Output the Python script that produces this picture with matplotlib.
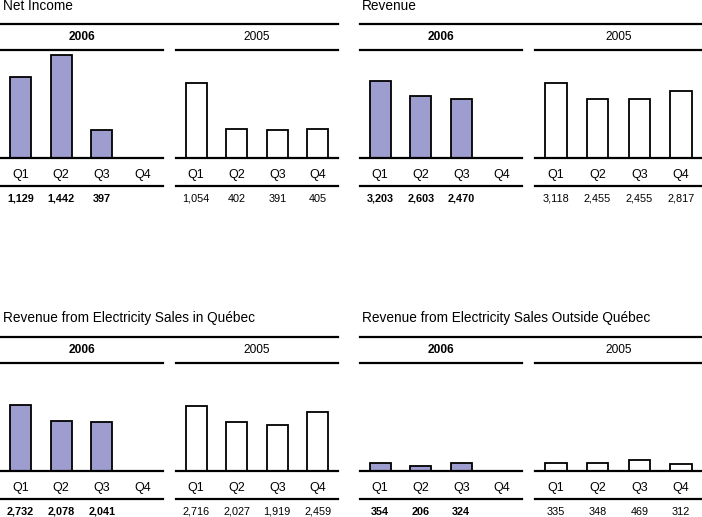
import matplotlib
matplotlib.use("Agg")
import matplotlib.pyplot as plt
from matplotlib.lines import Line2D

plt.rcParams['font.family'] = ['Liberation Sans', 'DejaVu Sans']

titles = ["Net Income", "Revenue",
          "Revenue from Electricity Sales in Québec",
          "Revenue from Electricity Sales Outside Québec"]
quarters = ["Q1", "Q2", "Q3", "Q4"]
years = ["2006", "2005"]

net_income_2006 = [1129, 1442, 397, None]
net_income_2005 = [1054, 402, 391, 405]
revenue_2006 = [3203, 2603, 2470, None]
revenue_2005 = [3118, 2455, 2455, 2817]
quebec_2006 = [2732, 2078, 2041, None]
quebec_2005 = [2716, 2027, 1919, 2459]
outside_2006 = [354, 206, 324, None]
outside_2005 = [335, 348, 469, 312]

panels = [
    (titles[0], net_income_2006, net_income_2005, 1510),
    (titles[1], revenue_2006, revenue_2005, 4520),
    (titles[2], quebec_2006, quebec_2005, 4480),
    (titles[3], outside_2006, outside_2005, 4500),
]

W, H = 702, 517
fig = plt.figure(figsize=(W / 100, H / 100), dpi=100)
fig.patch.set_facecolor("white")

FILL = "#9e9dd0"

def fx(x):
    return x / W

def fy(y):
    return 1 - y / H

# layout (pixels)
col_sub = [[(0, 163), (176, 338)], [(360, 522), (535, 702)]]
col_title_x = [3, 362]
row_top = [24, 336.5]      # top rule
row_axtop = [50, 363]      # year rule / axes top
row_base = [158, 471]      # baseline
row_title = [6.5, 318]

for idx, (title, v06, v05, ymax) in enumerate(panels):
    r, c = divmod(idx, 2)
    top_y, axtop, base = row_top[r], row_axtop[r], row_base[r]
    axh = base - axtop
    fig.text(fx(col_title_x[c]), fy(row_title[r]), title, fontsize=9.8,
             ha="left", va="center")
    x0, x1 = col_sub[c][0][0], col_sub[c][1][1]
    fig.add_artist(Line2D([fx(x0), fx(x1)], [fy(top_y), fy(top_y)],
                          color="black", lw=1.6))
    for j, (yr, vals) in enumerate(zip(years, [v06, v05])):
        sx0, sx1 = col_sub[c][j]
        ax = fig.add_axes([fx(sx0), fy(base), (sx1 - sx0) / W, axh / H])
        ax.set_xlim(-0.5, 3.5)
        ax.set_ylim(0, ymax)
        xs = [i for i, v in enumerate(vals) if v is not None]
        hs = [v for v in vals if v is not None]
        ax.bar(xs, hs, width=0.52,
               color=FILL if j == 0 else "white",
               edgecolor="black", linewidth=1.3, zorder=2)
        for s in ["left", "right"]:
            ax.spines[s].set_visible(False)
        ax.spines["bottom"].set_linewidth(1.6)
        ax.spines["top"].set_linewidth(1.6)
        ax.spines["bottom"].set_zorder(3)
        ax.set_yticks([])
        ax.set_xticks([])
        ax.set_facecolor("none")
        tr = ax.get_xaxis_transform()
        ax.text(0.5, 1 + 13 / axh, yr, transform=ax.transAxes,
                ha="center", va="center", fontsize=8.6,
                fontweight="bold" if j == 0 else "normal")
        for i, q in enumerate(quarters):
            ax.text(i, -17 / axh, q, transform=tr, ha="center",
                    va="center", fontsize=9)
            if vals[i] is not None:
                ax.text(i, -41 / axh, f"{vals[i]:,}", transform=tr,
                        ha="center", va="center", fontsize=7.8,
                        fontweight="bold" if j == 0 else "normal")
        ax.plot([0, 1], [-28 / axh] * 2, transform=ax.transAxes,
                color="black", lw=1.6, clip_on=False)

fig.savefig("out.png", dpi=100)
